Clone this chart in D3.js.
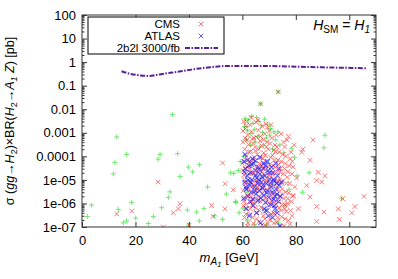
<!DOCTYPE html>
<html>
<head>
<meta charset="utf-8">
<script src="https://cdn.jsdelivr.net/npm/d3@7"></script>
<style>
  body { margin: 0; background: #fff; }
  svg text { font-family: "Liberation Sans", Arial, sans-serif; fill: #000; }
</style>
</head>
<body>
<div id="chart"></div>
<script>
// data: [mA1 (GeV), sigma x BR (pb)]
let cmsPoints = [
  [13.0,3.6e-7],[18.6,4.8e-7],[28.5,8.1e-6],[30.4,1.0e-7],[34.2,4.0e-7],[36.0,6.0e-7],[36.7,9.7e-7],[40.1,1.2e-7],
  [48.5,8.2e-7],[49.1,2.8e-7],[52.6,5.2e-5],[53.5,6.9e-6],[53.5,5.9e-7],[56.6,3.8e-6],
  [60.5,3e-3],[61.2,1.5e-3],[62.0,8e-4],[62.8,2.2e-3],[63.5,1.1e-3],[64.3,6e-4],[65.1,2.8e-3],[66.0,1.3e-3],
  [66.8,7e-4],[67.5,1.9e-3],[68.4,9e-4],[69.2,4e-4],[70.1,1.2e-3],[71.0,6e-4],[72.2,3e-4],[73.4,5.5e-2],
  [66.8,1.7e-2],[74.5,9e-4],[75.8,2.5e-4],[76.7,5e-4],[78.2,1.5e-4],[79.4,3e-4],
  [60.3,4e-4],[60.9,2e-4],[61.5,1e-4],[62.3,3.2e-4],[63.1,1.6e-4],[63.9,7e-5],[64.7,2.4e-4],[65.6,1.2e-4],
  [66.4,5e-5],[67.2,2.8e-4],[68.0,1.4e-4],[68.9,6e-5],[69.7,2e-4],[70.6,9e-5],[71.5,4e-5],[72.4,1.6e-4],
  [73.3,7e-5],[74.2,3e-5],[75.1,1.2e-4],[76.0,5e-5],[77.0,2.2e-5],[77.9,8e-5],[79.0,3.5e-5],[80.3,1.2e-5],
  [60.2,2.5e-5],[60.8,1e-5],[61.6,4e-6],[62.4,1.8e-5],[63.2,7e-6],[64.0,3e-6],[64.8,1.4e-5],[65.5,5e-6],
  [66.3,2e-6],[67.1,1.1e-5],[67.9,4.5e-6],[68.7,1.7e-6],[69.5,8e-6],[70.4,3.2e-6],[71.2,1.3e-6],[72.1,6e-6],
  [73.0,2.4e-6],[73.9,1e-5],[74.8,4e-6],[75.6,1.6e-6],[76.5,7e-6],[77.4,2.8e-6],[78.3,1.2e-6],[79.6,5e-6],
  [61.0,3e-5],[63.6,2e-5],[66.9,2.5e-5],[70.0,1.6e-5],[72.8,2.1e-5],[75.3,1.8e-5],
  [60.4,8e-7],[61.3,3.5e-7],[62.1,1.5e-7],[62.9,6e-7],[63.8,2.5e-7],[64.6,1e-6],[65.4,4e-7],[66.2,1.7e-7],
  [67.0,7e-7],[67.8,3e-7],[68.6,1.2e-7],[69.4,5e-7],[70.3,2e-7],[71.1,9e-7],[72.0,3.8e-7],[72.9,1.6e-7],
  [73.8,6.5e-7],[74.7,2.7e-7],[75.5,1.1e-7],[76.4,4.5e-7],[77.3,1.9e-7],[78.6,3e-7],[74.3,1.1e-7],
  [61.8,5e-4],[64.0,3.5e-4],[66.6,4.5e-4],[69.0,2.5e-4],[71.8,1.8e-4],[63.0,4e-5],[65.2,3.5e-5],[68.2,3e-5],
  [71.0,2.5e-5],[73.6,4.5e-5],[60.7,6e-5],[62.6,9e-6],[65.9,8e-6],[69.1,1.2e-5],[71.9,1.1e-5],[74.4,7e-6],
  [61.9,2.2e-6],[64.4,1.6e-6],[67.5,2.6e-6],[70.8,2.2e-6],[73.5,1.5e-6],[76.9,1e-6],[60.6,1.3e-6],[63.4,1.2e-6],
  [66.7,1.2e-6],[69.8,8e-7],[72.6,9e-7],[75.9,6e-7],[61.7,6e-7],[65.0,6.5e-7],[68.3,4.5e-7],[71.6,4e-7],
  [74.9,9e-7],[63.3,4.5e-3],[65.8,3.5e-3],[68.8,2.4e-3],[61.4,2e-3],[70.7,2.2e-3],[72.7,8e-4],[77.2,7e-4],
  [64.9,1.7e-4],[67.7,8e-5],[70.2,4.5e-5],[62.7,6e-5],[76.3,3e-6],[78.9,2e-6],
  [60.2,1.2e-3],[60.9,6e-4],[61.6,3e-3],[62.5,1.5e-4],[63.7,5.5e-4],[64.5,9e-5],[65.3,6.5e-4],[66.1,2e-4],
  [67.0,9e-5],[67.9,5e-4],[68.6,1.1e-4],[69.4,1.6e-3],[70.4,3.5e-4],[71.3,1.1e-4],[72.0,7e-5],[72.9,2.5e-4],
  [73.7,1.5e-4],[74.6,6e-5],[75.4,4e-4],[76.3,1e-4],[77.5,4e-5],[78.7,6e-5],
  [60.1,5e-5],[60.6,1.6e-5],[61.1,7e-6],[61.9,3.5e-5],[62.8,2.8e-5],[63.5,5e-6],[64.2,1.8e-5],[65.0,9e-6],
  [65.8,2.2e-5],[66.5,6e-6],[67.3,4e-5],[68.1,1.8e-5],[68.9,9e-6],[69.7,3.5e-5],[70.6,6e-6],[71.4,1.7e-5],
  [72.3,3.5e-5],[73.1,9e-6],[74.0,2.2e-5],[75.0,9e-6],[75.8,3e-5],[76.8,1.3e-5],[77.7,7e-6],[78.6,1.8e-5],
  [60.3,3.5e-6],[60.9,1.8e-6],[61.5,9e-7],[62.2,4.5e-6],[63.0,2e-6],[63.7,9e-7],[64.4,6e-6],[65.2,3.5e-6],
  [66.0,1.5e-6],[66.8,4e-6],[67.6,1.4e-6],[68.4,3.5e-6],[69.2,1.2e-6],[70.1,5e-6],[70.9,1.4e-6],[71.8,2.8e-6],
  [72.5,1.3e-6],[73.3,4e-6],[74.1,2e-6],[75.0,2.5e-6],[75.9,9e-7],[77.0,1.6e-6],[78.0,5e-7],
  [60.8,2.5e-7],[61.9,1.1e-7],[63.0,3.5e-7],[64.1,1.4e-7],[65.3,2.2e-7],[66.4,5e-7],[67.4,1.2e-7],[68.5,2.2e-7],
  [69.6,1.4e-7],[70.7,3.5e-7],[71.8,1.5e-7],[73.2,2.5e-7],[74.5,5e-7],[76.0,2.2e-7],[77.8,1.3e-7],
  [79.0,2.2e-6],[80.9,6e-7],[82.2,1.5e-4],[82.6,2.0e-4],[84.1,5.8e-6],[85.3,6.8e-5],[85.3,1.9e-6],[86.4,5e-4],
  [87.8,9.5e-6],[87.8,7.4e-7],[87.8,1.7e-7],[88.4,2.1e-5],[89.7,8.1e-6],[90.5,4.3e-7],[90.9,1.5e-5],
  [95.9,5.9e-7],[96.3,2.1e-7],[97.5,1.6e-6],[100.9,4.0e-7],[102.1,7.4e-7],[105.5,2.0e-6]
];

let atlasPoints = [
  [60.6,6e-5],[61.2,3e-5],[61.8,1.5e-5],[62.4,4e-5],[63.0,2e-5],[63.6,1e-5],[64.2,5e-5],[64.8,2.5e-5],
  [65.4,1.2e-5],[66.0,3.5e-5],[66.6,1.8e-5],[67.2,8e-6],[67.8,3e-5],[68.4,1.5e-5],[69.0,7e-6],[69.6,2.5e-5],
  [70.2,1.1e-5],[70.8,5e-6],[71.4,2e-5],[72.0,9e-6],[72.6,4e-6],[73.2,1.5e-5],[73.8,6e-6],[60.9,8e-6],
  [61.5,4e-6],[62.1,2e-6],[62.7,6e-6],[63.3,3e-6],[63.9,1.5e-6],[64.5,5e-6],[65.1,2.5e-6],[65.7,7e-6],
  [66.3,3.5e-6],[66.9,1.7e-6],[67.5,4.5e-6],[68.1,2.2e-6],[68.7,1.1e-6],[69.3,3.5e-6],[69.9,1.8e-6],[70.5,9e-7],
  [71.1,3e-6],[71.7,1.5e-6],[72.3,6e-7],[72.9,2.5e-6],[73.5,1.2e-6],[61.0,1.2e-4],[63.8,8e-5],[66.5,9e-5],
  [69.4,6e-5],[72.5,5e-5],[61.4,6e-7],[62.6,3e-7],[64.0,8e-7],[65.3,4e-7],[66.8,1.5e-7],[68.2,6e-7],
  [69.7,3e-7],[71.3,2.5e-7],[73.0,4e-7],[74.0,1.1e-7],[62.0,7e-5],[64.9,6.5e-5],[67.9,5e-5],[70.9,3.5e-5],
  [73.6,3e-5],[60.8,2.2e-5],[62.2,1e-5],[63.5,4.5e-5],[65.0,1.6e-5],[66.2,2.8e-5],[67.4,1.3e-5],[68.7,4e-5],
  [70.0,2e-5],[71.6,1e-5],[72.8,7e-6],[61.3,5e-6],[63.1,8e-6],[64.7,3.5e-6],[66.1,1e-5],[67.7,6e-6],
  [69.1,2.8e-6],[70.6,7.5e-6],[72.2,2e-6],[60.5,1.6e-6],[62.9,1.2e-6],[65.8,1.3e-6],[68.9,5e-7],[71.9,8e-7],
  [74.2,2e-6],[74.6,8e-6]
];

let otherPoints = [
  [2.0,2.8e-7],[3.6,8.5e-7],[11.7,1.8e-5],[12.3,5.5e-5],[13.0,6.6e-4],[13.6,5.5e-7],[15.5,1.5e-7],[16.7,1.2e-4],
  [16.7,1.8e-7],[18.6,1.1e-6],[20.1,2.4e-7],[24.8,1.4e-7],[26.7,2.8e-7],[28.5,7.6e-5],[29.2,1.2e-4],[29.8,6.6e-7],
  [32.3,1.8e-6],[32.9,3.1e-6],[33.8,5.9e-3],[35.8,1.3e-4],[36.7,1.4e-5],[39.4,5.3e-7],[39.8,3.5e-5],[39.8,1.2e-7],
  [41.4,2.2e-5],[42.9,4.3e-7],[43.9,4.4e-5],[43.9,1.8e-7],[45.6,6e-7],[47.0,5e-6],[49.5,3e-7],[52.6,2.1e-7],
  [54.0,2.5e-6],[55.5,2e-5],[56.8,1.9e-5],[57.5,1.2e-6],[57.6,1.1e-6],[58.5,2.5e-5],[58.8,4e-7],[59.2,6e-5],
  [61.0,4e-3],[62.2,3.5e-3],[63.5,5e-3],[64.0,2.5e-3],[65.4,4.5e-3],[66.2,3e-3],[67.0,2e-3],[68.3,3.8e-3],
  [69.5,2.2e-3],[70.5,1.5e-3],[71.8,1.1e-3],[60.8,1.8e-3],[62.0,1.2e-3],[63.2,9e-4],[64.6,1.4e-3],[65.8,7e-4],
  [67.5,1e-3],[69.0,6e-4],[70.2,8e-4],[72.5,5e-4],[73.3,1.1e-3],[61.5,5e-4],[63.0,3e-4],[64.8,4e-4],
  [66.5,2.5e-4],[68.0,3e-4],[71.3,2e-4],[74.0,3e-4],[75.5,1.4e-4],[78.5,2.2e-4],[79.5,9e-5],[73.4,5.5e-2],
  [66.8,1.7e-2],[60.5,1e-4],[62.5,6e-5],[67.8,5e-5],[61.8,3e-6],[60.3,6e-7],[62.0,2e-7],[64.5,1.3e-7],
  [69.0,1.2e-7],[73.5,1.5e-7],[76.0,8e-7],[77.5,4e-6],[80.5,1.5e-5],[82.5,3e-6],[85.0,2e-5],[90.5,2.3e-4],
  [90.9,7.9e-4],[97.2,1.6e-6]
];

// 2b2l 3000/fb projection
let projMass = [14.8, 18, 22, 25, 29, 33, 37, 41, 44, 48, 52, 56, 60, 70, 80, 90, 100, 106.5];
let projSigma = [0.41, 0.32, 0.27, 0.26, 0.30, 0.35, 0.41, 0.48, 0.54, 0.61, 0.67, 0.69, 0.69, 0.68, 0.64, 0.60, 0.57, 0.55];

let xTicks = [0, 20, 40, 60, 80, 100];
let yTicks = [100, 10, 1, 0.1, 0.01, 0.001, 0.0001, 1e-5, 1e-6, 1e-7];
let yTickLabels = ["100", "10", "1", "0.1", "0.01", "0.001", "0.0001", "1e-05", "1e-06", "1e-07"];

let svgWidth = 398;
let svgHeight = 279;
let margin = { top: 15, right: 22, bottom: 52, left: 82 };
let width = svgWidth - margin.left - margin.right;
let height = svgHeight - margin.top - margin.bottom;

let svg = d3.select("#chart")
  .append("svg")
  .attr("width", svgWidth)
  .attr("height", svgHeight);

svg.append("defs").append("clipPath")
  .attr("id", "plotclip")
  .append("rect")
  .attr("width", width)
  .attr("height", height);

let chartGroup = svg.append("g")
  .attr("transform", `translate(${margin.left}, ${margin.top})`);

let xScale = d3.scaleLinear().domain([0, 110]).range([0, width]);
let yScale = d3.scaleLog().domain([1e-7, 100]).range([height, 0]);

// minor log ticks
let minorTicks = [];
for (let e = -7; e < 2; e++) {
  for (let m = 2; m < 10; m++) minorTicks.push(m * Math.pow(10, e));
}

// axes, gnuplot style: ticks inward on all sides
let tickColor = "#333";
chartGroup.append("g")
  .attr("transform", `translate(0, ${height})`)
  .call(d3.axisBottom(xScale).tickValues(xTicks).tickSizeInner(-5).tickSizeOuter(0).tickPadding(9))
  .call(g => g.select(".domain").remove());
chartGroup.append("g")
  .call(d3.axisTop(xScale).tickValues(xTicks.slice(1)).tickSizeInner(-5).tickSizeOuter(0).tickFormat(""))
  .call(g => g.select(".domain").remove());
chartGroup.append("g")
  .call(d3.axisLeft(yScale).tickValues(yTicks).tickSizeInner(-5).tickSizeOuter(0).tickPadding(6)
    .tickFormat((d, i) => yTickLabels[i]))
  .call(g => g.select(".domain").remove());
chartGroup.append("g")
  .call(d3.axisLeft(yScale).tickValues(minorTicks).tickSizeInner(-2.5).tickSizeOuter(0).tickFormat(""))
  .call(g => g.select(".domain").remove());
chartGroup.append("g")
  .attr("transform", `translate(${width}, 0)`)
  .call(d3.axisRight(yScale).tickValues(yTicks).tickSizeInner(-5).tickSizeOuter(0).tickFormat(""))
  .call(g => g.select(".domain").remove());
chartGroup.append("g")
  .attr("transform", `translate(${width}, 0)`)
  .call(d3.axisRight(yScale).tickValues(minorTicks).tickSizeInner(-2.5).tickSizeOuter(0).tickFormat(""))
  .call(g => g.select(".domain").remove());

chartGroup.selectAll(".tick line").attr("stroke", tickColor);
chartGroup.selectAll(".tick text").style("font-size", "13px").attr("fill", "#000");

// scatter points
let plot = chartGroup.append("g").attr("clip-path", "url(#plotclip)");

function crossPath(s) {
  return `M${-s},${-s}L${s},${s}M${-s},${s}L${s},${-s}`;
}
function plusPath(s) {
  return `M${-s},0L${s},0M0,${-s}L0,${s}`;
}

plot.selectAll(".other")
  .data(otherPoints)
  .enter()
  .append("path")
  .attr("class", "other")
  .attr("transform", d => `translate(${xScale(d[0])}, ${yScale(d[1])})`)
  .attr("d", plusPath(2.5))
  .attr("stroke", "#33e033")
  .attr("stroke-width", 1)
  .attr("opacity", 0.7);

plot.selectAll(".cms")
  .data(cmsPoints)
  .enter()
  .append("path")
  .attr("class", "cms")
  .attr("transform", d => `translate(${xScale(d[0])}, ${yScale(d[1])})`)
  .attr("d", crossPath(2.3))
  .attr("stroke", "#ff1a1a")
  .attr("stroke-width", 1)
  .attr("opacity", 0.6);

plot.selectAll(".atlas")
  .data(atlasPoints)
  .enter()
  .append("path")
  .attr("class", "atlas")
  .attr("transform", d => `translate(${xScale(d[0])}, ${yScale(d[1])})`)
  .attr("d", crossPath(2.3))
  .attr("stroke", "#1a1aff")
  .attr("stroke-width", 1.1)
  .attr("opacity", 0.7);

let line = d3.line()
  .x((d, i) => xScale(projMass[i]))
  .y(d => yScale(d))
  .curve(d3.curveMonotoneX);

let lineStyle = { color: "#5a1e9a", dash: "5,1.5,1.5,1.5" };

plot.append("path")
  .datum(projSigma)
  .attr("d", line)
  .attr("fill", "none")
  .attr("stroke", lineStyle.color)
  .attr("stroke-width", 2)
  .attr("stroke-dasharray", lineStyle.dash);

// border
chartGroup.append("rect")
  .attr("width", width)
  .attr("height", height)
  .attr("fill", "none")
  .attr("stroke", tickColor)
  .attr("stroke-width", 1);

// legend
let legend = svg.append("g").attr("transform", "translate(88, 17)");
legend.append("rect")
  .attr("width", 136)
  .attr("height", 37)
  .attr("fill", "#fff")
  .attr("stroke", "#000")
  .attr("stroke-width", 1);

let legendNames = ["CMS", "ATLAS", "2b2l 3000/fb"];
legendNames.forEach(function(name, i) {
  let yy = 7 + i * 12;
  legend.append("text")
    .attr("x", 92)
    .attr("y", yy)
    .attr("dy", "0.35em")
    .attr("text-anchor", "end")
    .style("font-size", "11.5px")
    .text(name);
  if (i === 0 || i === 1) {
    legend.append("path")
      .attr("transform", `translate(113, ${yy})`)
      .attr("d", crossPath(2.3))
      .attr("stroke", i === 0 ? "#ff1a1a" : "#1a1aff")
      .attr("stroke-width", 1)
      .attr("opacity", i === 0 ? 0.6 : 0.7);
  } else {
    legend.append("line")
      .attr("x1", 97).attr("x2", 130)
      .attr("y1", yy).attr("y2", yy)
      .attr("stroke", lineStyle.color)
      .attr("stroke-width", 2)
      .attr("stroke-dasharray", lineStyle.dash);
  }
});

// H_SM = H_1 label
let hLabel = svg.append("text")
  .attr("x", 370)
  .attr("y", 30)
  .attr("text-anchor", "end")
  .style("font-size", "14px");
hLabel.append("tspan").style("font-style", "italic").text("H");
hLabel.append("tspan").attr("dy", 3).style("font-size", "10px").text("SM");
hLabel.append("tspan").attr("dy", -3).text(" = ");
hLabel.append("tspan").style("font-style", "italic").text("H");
hLabel.append("tspan").attr("dy", 3).style("font-size", "10px").style("font-style", "italic").text("1");

// x axis label
let xLabel = svg.append("text")
  .attr("x", margin.left + width / 2)
  .attr("y", 262)
  .attr("text-anchor", "middle")
  .style("font-size", "13px");
xLabel.append("tspan").style("font-style", "italic").text("m");
xLabel.append("tspan").attr("dy", 3).style("font-size", "10px").style("font-style", "italic").text("A");
xLabel.append("tspan").attr("dy", 2).style("font-size", "8px").style("font-style", "italic").text("1");
xLabel.append("tspan").attr("dy", -5).text(" [GeV]");

// y axis label
let yLabel = svg.append("text")
  .attr("transform", `translate(14, ${margin.top + height / 2}) rotate(-90)`)
  .attr("text-anchor", "middle")
  .style("font-size", "12.5px");
let yParts = [
  ["σ (", 0, false, 12.5], ["gg", 0, true, 12.5], ["→", 0, false, 12.5], ["H", 0, true, 12.5],
  ["2", 3, false, 9], [")×BR(", -3, false, 12.5], ["H", 0, true, 12.5], ["2", 3, false, 9],
  ["→", -3, false, 12.5], ["A", 0, true, 12.5], ["1", 3, true, 9], [" Z", -3, true, 12.5], [") [pb]", 0, false, 12.5]
];
yParts.forEach(function(p) {
  yLabel.append("tspan")
    .attr("dy", p[1])
    .style("font-style", p[2] ? "italic" : "normal")
    .style("font-size", p[3] + "px")
    .text(p[0]);
});
</script>
</body>
</html>
